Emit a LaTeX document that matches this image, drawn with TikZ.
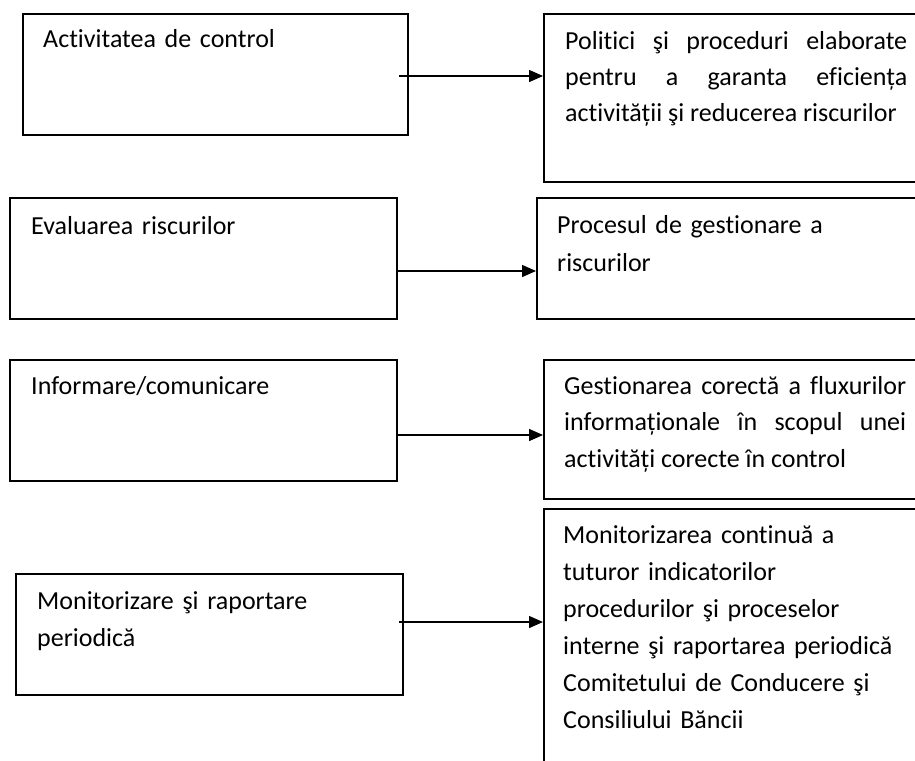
\documentclass[tikz,border=0pt]{standalone}
\usepackage{fontspec}
\setmainfont{Carlito}[Ligatures=NoCommon]
\usetikzlibrary{arrows.meta,positioning}

\begin{document}
\begin{tikzpicture}[
  x=1pt,y=-1pt,
  box/.style={draw,line width=1.6pt,anchor=north west,inner sep=0pt,minimum width=387pt,minimum height=121pt},
  side/.style={draw,line width=1.6pt,anchor=north west,inner sep=0pt,minimum width=420pt},
  txt/.style={anchor=base west,inner sep=0pt,text width=#1,align=left,font=\fontsize{26}{37}\selectfont},
  just/.style={anchor=base west,inner sep=0pt,text width=342pt,align=justify,font=\fontsize{26}{36.5}\selectfont},
  link/.style={line width=1.4pt,-{Triangle[length=14pt,width=12pt]}}
]
  \useasboundingbox (0,0) rectangle (915,760);
  \clip (0,0) rectangle (915,760);

  % left column
  \node[box,minimum width=385pt] (act) at (22,13) {};
  \node[box] (eval) at (9,197) {};
  \node[box] (info) at (9,359) {};
  \node[box] (mon) at (15,573) {};

  % right column
  \node[side,minimum height=168pt] (pol) at (543,13) {};
  \node[side,minimum height=121pt] (proc) at (536,197) {};
  \node[side,minimum height=139pt] (flux) at (543,359) {};
  \node[side,minimum height=290pt] (cont) at (543,508) {};

  % texts
  \node[txt=340pt] (actt) at ([shift={(21,35)}]act.north west) {Activitatea de control};
  \node[txt=340pt] (evalt) at ([shift={(22,37)}]eval.north west) {Evaluarea riscurilor};
  \node[txt=340pt] (infot) at ([shift={(22,35)}]info.north west) {Informare/comunicare};
  \node[txt=340pt] (mont) at ([shift={(22,36)}]mon.north west) {Monitorizare şi raportare\\periodică};
  \node[just] (polt) at ([shift={(22,36)}]pol.north west)
    {Politici şi proceduri elaborate\linebreak pentru a garanta eficiența\linebreak \mbox{activității şi reducerea riscurilor}};
  \node[txt=345pt,font=\fontsize{26}{38}\selectfont] (proct) at ([shift={(21,36)}]proc.north west) {Procesul de gestionare a\\riscurilor};
  \node[just] (fluxt) at ([shift={(21,35)}]flux.north west)
    {Gestionarea corectă a fluxurilor\linebreak informaționale în scopul unei\linebreak \mbox{activități corecte în control}};
  \node[txt=350pt] (contt) at ([shift={(20,35)}]cont.north west)
    {Monitorizarea continuă a\\tuturor indicatorilor\\procedurilor şi proceselor\\interne şi raportarea periodică\\Comitetului de Conducere şi\\Consiliului Băncii};

  % connectors
  \coordinate (s1) at (399,76);
  \coordinate (s2) at (396,271);
  \coordinate (s3) at (396,435);
  \coordinate (s4) at (399,622);
  \draw[link] (s1) -- (s1 -| pol.west);
  \draw[link] (s2) -- (s2 -| proc.west);
  \draw[link] (s3) -- (s3 -| flux.west);
  \draw[link] (s4) -- (s4 -| cont.west);
\end{tikzpicture}
\end{document}
